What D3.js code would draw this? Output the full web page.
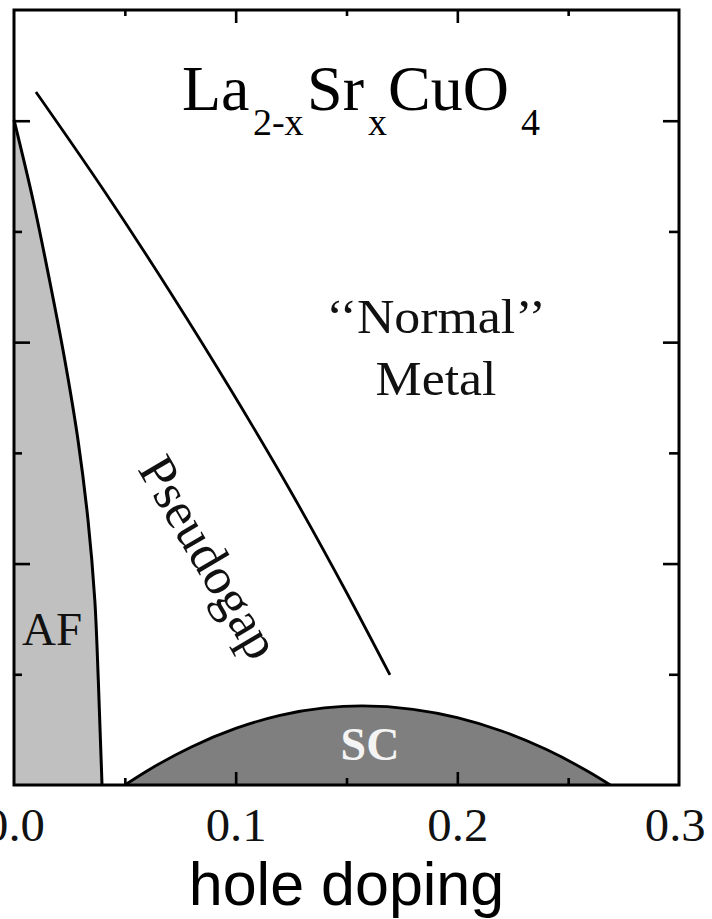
<!DOCTYPE html>
<html>
<head>
<meta charset="utf-8">
<script src="https://cdn.jsdelivr.net/npm/d3@7"></script>
<style>
  html, body { margin: 0; padding: 0; background: #fff; }
  svg { display: block; }
</style>
</head>
<body>
<svg id="chart" width="712" height="919"></svg>
<script>
// Schematic phase diagram of La(2-x)Sr(x)CuO4: temperature vs hole doping
const majorX = [0, 0.1, 0.2, 0.3];
const minorX = [0.05, 0.15, 0.25];
const xTickLabels = ["0.0", "0.1", "0.2", "0.3"];
const majorT = [200, 400, 600];
const minorT = [100, 300, 500];

// Antiferromagnetic boundary (Neel line)
const afX = [0, 0.00857, 0.01601, 0.02292, 0.02887, 0.03338, 0.03645, 0.03803, 0.0397];
const afT = [600.7, 528.4, 456.1, 383.9, 311.6, 239.4, 167.1, 94.8, 0];

// Pseudogap crossover line T*
const pgX = [0.0099, 0.0408, 0.0702, 0.0982, 0.1248, 0.1499, 0.1696];
const pgT = [626, 536.3, 446, 355.6, 265.3, 174.3, 99.4];

// Superconducting dome
const scX = [0.05, 0.06, 0.08, 0.10, 0.12, 0.14, 0.157, 0.18, 0.20, 0.22, 0.24, 0.26, 0.269];
const scT = [0, 12.7, 34.4, 51.1, 62.9, 69.6, 71.4, 68.4, 60.9, 48.8, 32.2, 11.0, 0];

const svg = d3.select("#chart");
const x = d3.scaleLinear().domain([0, 0.3]).range([14, 679]);
const y = d3.scaleLinear().domain([0, 700]).range([785, 10]);
const serif = "'Liberation Serif', 'Times New Roman', 'DejaVu Serif', serif";

const af = afX.map((v, i) => ({ x: v, t: afT[i] }));
const pg = pgX.map((v, i) => ({ x: v, t: pgT[i] }));
const sc = scX.map((v, i) => ({ x: v, t: scT[i] }));

// AF region
svg.append("path")
  .datum(af)
  .attr("fill", "#c0c0c0")
  .attr("d", d3.area().curve(d3.curveMonotoneY).y(d => y(d.t)).x0(x(0)).x1(d => x(d.x)));
svg.append("path")
  .datum(af)
  .attr("fill", "none").attr("stroke", "#000").attr("stroke-width", 3)
  .attr("d", d3.line().curve(d3.curveMonotoneY).x(d => x(d.x)).y(d => y(d.t)));

// SC dome
svg.append("path")
  .datum(sc)
  .attr("fill", "#7f7f7f")
  .attr("d", d3.area().curve(d3.curveMonotoneX).x(d => x(d.x)).y0(y(0)).y1(d => y(d.t)));
svg.append("path")
  .datum(sc)
  .attr("fill", "none").attr("stroke", "#000").attr("stroke-width", 2.8)
  .attr("d", d3.line().curve(d3.curveMonotoneX).x(d => x(d.x)).y(d => y(d.t)));

// Pseudogap line
svg.append("path")
  .datum(pg)
  .attr("fill", "none").attr("stroke", "#000").attr("stroke-width", 2.8)
  .attr("d", d3.line().curve(d3.curveMonotoneX).x(d => x(d.x)).y(d => y(d.t)));

// Inward ticks on all four sides
function addAxis(axis, transform) {
  const g = svg.append("g").attr("transform", transform).call(axis);
  g.select(".domain").remove();
  g.selectAll(".tick line").attr("stroke", "#000").attr("stroke-width", 2.6);
  return g;
}
addAxis(d3.axisBottom(x).tickValues(minorX).tickSize(-7).tickFormat(""), `translate(0,${y(0)})`);
addAxis(d3.axisTop(x).tickValues(minorX).tickSize(-6).tickFormat(""), `translate(0,${y(700)})`);
addAxis(d3.axisTop(x).tickValues(majorX.slice(1, 3)).tickSize(-13).tickFormat(""), `translate(0,${y(700)})`);
addAxis(d3.axisLeft(y).tickValues(majorT).tickSize(-16).tickFormat(""), `translate(${x(0)},0)`);
addAxis(d3.axisLeft(y).tickValues(minorT).tickSize(-8).tickFormat(""), `translate(${x(0)},0)`);
addAxis(d3.axisRight(y).tickValues(majorT).tickSize(-16).tickFormat(""), `translate(${x(0.3)},0)`);
addAxis(d3.axisRight(y).tickValues(minorT).tickSize(-10).tickFormat(""), `translate(${x(0.3)},0)`);
const bottom = addAxis(
  d3.axisBottom(x).tickValues(majorX).tickSize(-13)
    .tickFormat((d, i) => xTickLabels[i]),
  `translate(0,${y(0)})`);
bottom.selectAll(".tick line").filter(d => d === 0 || d === 0.3).remove();
bottom.selectAll(".tick text")
  .attr("y", 56).attr("dy", 0)
  .attr("transform", "scale(1.06,1)")
  .attr("font-family", serif).attr("font-size", 46).attr("fill", "#111");
// keep the right-most label inside the page edge
bottom.selectAll(".tick text").filter(d => d === 0.3).attr("x", -4);

// Frame
svg.append("rect")
  .attr("x", x(0)).attr("y", y(700))
  .attr("width", x(0.3) - x(0)).attr("height", y(0) - y(700))
  .attr("fill", "none").attr("stroke", "#000").attr("stroke-width", 3);

// Title: chemical formula with subscripts
const title = svg.append("text")
  .attr("font-family", serif).attr("fill", "#000")
  .attr("y", y(609.7));
const tParts = [
  { s: "La", fx: 0.0758, size: 64, sub: false },
  { s: "2-x", fx: 0.1078, size: 38, sub: true },
  { s: "Sr", fx: 0.1322, size: 64, sub: false },
  { s: "x", fx: 0.1597, size: 38, sub: true },
  { s: "CuO", fx: 0.1687, size: 64, sub: false },
  { s: "4", fx: 0.2287, size: 38, sub: true }
];
tParts.forEach(p => {
  title.append("tspan")
    .attr("x", x(p.fx))
    .attr("y", p.sub ? y(609.7) + 25 : y(609.7))
    .attr("font-size", p.size)
    .text(p.s);
});

// Region labels
const cx = x(0.1904);
svg.append("text")
  .attr("x", cx).attr("y", y(408.3))
  .attr("text-anchor", "middle").attr("font-family", serif).attr("font-size", 48)
  .attr("transform", `translate(${cx},0) scale(1.08,1) translate(${-cx},0)`)
  .attr("fill", "#111")
  .text("\u2018\u2018Normal\u2019\u2019");
svg.append("text")
  .attr("x", cx).attr("y", y(352.3))
  .attr("text-anchor", "middle").attr("font-family", serif).attr("font-size", 48)
  .attr("transform", `translate(${cx},0) scale(1.08,1) translate(${-cx},0)`)
  .attr("fill", "#111")
  .text("Metal");

svg.append("text")
  .attr("transform", `translate(${x(0.0884)},${y(206)}) rotate(59.5)`)
  .attr("text-anchor", "middle").attr("dy", "0.35em")
  .attr("font-family", serif).attr("font-size", 52).attr("fill", "#111")
  .text("Pseudogap");

svg.append("text")
  .attr("x", x(0.0036)).attr("y", y(126.5))
  .attr("font-family", serif).attr("font-size", 47).attr("fill", "#111")
  .text("AF");

svg.append("text")
  .attr("x", x(0.1606)).attr("y", y(22.6))
  .attr("text-anchor", "middle")
  .attr("font-family", serif).attr("font-size", 46).attr("font-weight", "bold")
  .attr("fill", "#f4f4f4")
  .text("SC");

// Axis title
svg.append("text")
  .attr("x", x(0.15)).attr("y", 905)
  .attr("text-anchor", "middle")
  .attr("font-family", "'Liberation Sans', Arial, Helvetica, sans-serif")
  .attr("font-size", 61).attr("fill", "#000")
  .text("hole doping");
</script>
</body>
</html>
